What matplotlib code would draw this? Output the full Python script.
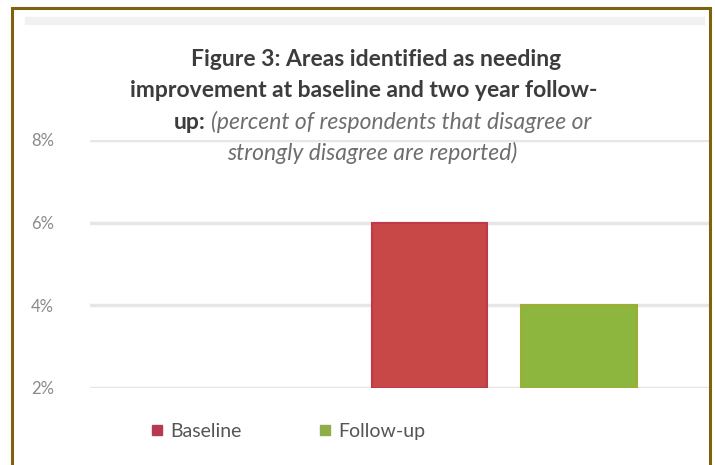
import matplotlib.pyplot as plt
from matplotlib.patches import Rectangle
from matplotlib.lines import Line2D

# data
series = ["Baseline", "Follow-up"]
values = [6.0, 4.0]          # percent
colors = ["#c84848", "#8db63e"]
edge_colors = ["#c0394b", "#9cae34"]
legend_colors = ["#b83a52", "#8fae48"]
yticks = [2, 4, 6, 8]
ytick_labels = ["2%", "4%", "6%", "8%"]

plt.rcParams['font.family'] = ['Lato', 'DejaVu Sans']

fig = plt.figure(figsize=(7.15, 4.65), dpi=100)
ax = fig.add_axes([0.126, 0.1656, 0.87, 0.5334])

base = yticks[0]
xs = range(len(series))
for i in xs:
    ax.bar(i, values[i] - base, bottom=base, width=0.77, color=colors[i],
           edgecolor=edge_colors[i], linewidth=1.5, zorder=3)

ax.set_ylim(2, 8)
ax.set_xlim(-2.27, 1.89)
ax.set_yticks(yticks)
ax.set_yticklabels(ytick_labels, color="#8a8a8a", fontsize=12)
ax.set_xticks([])
ax.tick_params(axis='y', length=0, pad=26)
ax.grid(axis='y', color="#e6e6e6", linewidth=2.5, zorder=0)
for s in ax.spines.values():
    s.set_visible(False)

# title block
tc = "#3c3c3c"
fs = 16.5
fig.text(0.526, 0.873, "Figure 3: Areas identified as needing", ha='center',
         va='center', fontsize=fs, fontweight='bold', color=tc)
fig.text(0.508, 0.805, "improvement at baseline and two year follow-", ha='center',
         va='center', fontsize=fs, fontweight='bold', color=tc)
fig.text(0.287, 0.737, "up:", ha='right', va='center', fontsize=fs,
         fontweight='bold', color=tc,
         bbox=dict(facecolor='white', edgecolor='none', pad=4))
fig.text(0.295, 0.737, "(percent of respondents that disagree or", ha='left',
         va='center', fontsize=fs, style='italic', color="#6e6e6e",
         bbox=dict(facecolor='white', edgecolor='none', pad=4))
fig.text(0.521, 0.671, "strongly disagree are reported)", ha='center',
         va='center', fontsize=fs, style='italic', color="#6e6e6e")

# legend
handles = [Line2D([], [], marker='s', linestyle='none', markersize=6.5,
                  color=legend_colors[i]) for i in xs]
fig.legend(handles, series, loc='center', bbox_to_anchor=(0.404, 0.073),
           ncol=2, frameon=False, fontsize=14, handlelength=0.5,
           handletextpad=0.45, columnspacing=4.0, labelcolor="#555555")

# faint smudge line near the top and the gold frame
fig.add_artist(Line2D([0.04, 0.98], [0.955, 0.955], color="#f1f1f1",
                      linewidth=6, transform=fig.transFigure))
fig.add_artist(Rectangle((12 / 715, -0.05), 698 / 715, 1.033, fill=False,
                         edgecolor="#7d6212", linewidth=2.2,
                         transform=fig.transFigure))

fig.savefig("out.png", dpi=100)
